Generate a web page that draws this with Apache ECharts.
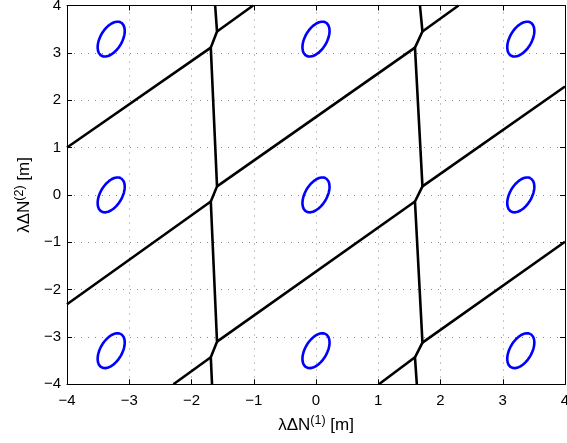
<!DOCTYPE html>
<html>
<head>
<meta charset="utf-8">
<script src="https://cdn.jsdelivr.net/npm/echarts@6/dist/echarts.min.js"></script>
<style>
html,body{margin:0;padding:0;background:#fff;overflow:hidden;}
#chart{width:567px;height:443px;}
</style>
</head>
<body>
<div id="chart"></div>
<script>
// Axis ticks
const xTicks = [-4, -3, -2, -1, 0, 1, 2, 3, 4];
const yTicks = [-4, -3, -2, -1, 0, 1, 2, 3, 4];

// Pull-in region boundaries (black)
const boundaryLeft = [[-1.62, 4], [-1.59, 3.45], [-1.69, 3.11], [-1.59, 0.18], [-1.69, -0.14], [-1.59, -3.10], [-1.69, -3.43], [-1.67, -4]];
const boundaryRight = [[1.67, 4], [1.71, 3.45], [1.59, 3.11], [1.71, 0.18], [1.59, -0.14], [1.71, -3.12], [1.59, -3.43], [1.62, -4]];
const slant1 = [[-4, 1.0], [-1.69, 3.11]];
const slant2 = [[-1.59, 3.45], [-1.01, 4]];
const slant3 = [[-4, -2.31], [-1.69, -0.14]];
const slant4 = [[-1.59, 0.18], [1.59, 3.11]];
const slant5 = [[1.71, 3.45], [2.29, 4]];
const slant6 = [[-2.29, -4], [-1.69, -3.43]];
const slant7 = [[-1.59, -3.10], [1.59, -0.14]];
const slant8 = [[1.71, 0.18], [4, 2.29]];
const slant9 = [[1.01, -4], [1.59, -3.43]];
const slant10 = [[1.71, -3.12], [4, -0.99]];

// Confidence ellipses (blue): centres and semi-axis vectors
const ellipseCentersX = [-3.29, 0, 3.29];
const ellipseCentersY = [-3.29, 0, 3.29];
const ellipseMajor = [0.158, 0.35];
const ellipseMinor = [-0.15, 0.117];

const boundaries = [boundaryLeft, boundaryRight, slant1, slant2, slant3, slant4, slant5, slant6, slant7, slant8, slant9, slant10];

function ellipsePoints(cx, cy) {
  const pts = [];
  const n = 96;
  for (let i = 0; i <= n; i++) {
    const t = 2 * Math.PI * i / n;
    pts.push([cx + ellipseMajor[0] * Math.cos(t) + ellipseMinor[0] * Math.sin(t),
              cy + ellipseMajor[1] * Math.cos(t) + ellipseMinor[1] * Math.sin(t)]);
  }
  return pts;
}

const series = [];
boundaries.forEach(function (b) {
  series.push({type: 'line', data: b, symbol: 'none', clip: true, animation: false,
    lineStyle: {color: '#000', width: 2.6}, silent: true});
});
ellipseCentersX.forEach(function (cx) {
  ellipseCentersY.forEach(function (cy) {
    series.push({type: 'line', data: ellipsePoints(cx, cy), symbol: 'none', smooth: false, clip: true, animation: false,
      lineStyle: {color: '#0000ff', width: 2.6}, silent: true});
  });
});

const font = 'Liberation Sans, Arial, Helvetica, sans-serif';
const minus = function (v) { return String(v).replace('-', '\u2212'); };
const nameStyle = {fontFamily: font, fontSize: 17, color: '#000',
  rich: {sup: {fontFamily: font, fontSize: 12.5, color: '#000', padding: [0, 0, 9, 0]}}};

const chart = echarts.init(document.getElementById('chart'), null, {renderer: 'canvas'});
chart.setOption({
  animation: false,
  backgroundColor: '#fff',
  grid: {left: 67, right: 2, top: 5.5, bottom: 58.7, containLabel: false, outerBoundsMode: 'none'},
  xAxis: [{
    type: 'value', min: xTicks[0], max: xTicks[xTicks.length - 1], interval: 1, position: 'bottom',
    name: 'λΔN{sup|(1)} [m]', nameLocation: 'middle', nameGap: 30,
    nameTextStyle: nameStyle,
    axisLine: {show: true, onZero: false, lineStyle: {color: '#000', width: 1}},
    axisTick: {show: true, inside: true, length: 5, lineStyle: {color: '#000'}},
    axisLabel: {fontFamily: font, fontSize: 15, color: '#000', margin: 9, formatter: minus, hideOverlap: false},
    splitLine: {show: true, lineStyle: {color: '#8a8a8a', width: 1, type: [1, 6]}}
  }, {
    type: 'value', min: xTicks[0], max: xTicks[xTicks.length - 1], interval: 1, position: 'top',
    axisLine: {show: true, onZero: false, lineStyle: {color: '#000', width: 1}},
    axisTick: {show: true, inside: true, length: 5, lineStyle: {color: '#000'}},
    axisLabel: {show: false}, splitLine: {show: false}
  }],
  yAxis: [{
    type: 'value', min: yTicks[0], max: yTicks[yTicks.length - 1], interval: 1, position: 'left',
    name: 'λΔN{sup|(2)} [m]', nameLocation: 'middle', nameGap: 32, nameRotate: 90,
    nameTextStyle: nameStyle,
    axisLine: {show: true, onZero: false, lineStyle: {color: '#000', width: 1}},
    axisTick: {show: true, inside: true, length: 5, lineStyle: {color: '#000'}},
    axisLabel: {fontFamily: font, fontSize: 15, color: '#000', margin: 6, formatter: minus},
    splitLine: {show: true, lineStyle: {color: '#8a8a8a', width: 1, type: [1, 6]}}
  }, {
    type: 'value', min: yTicks[0], max: yTicks[yTicks.length - 1], interval: 1, position: 'right',
    axisLine: {show: true, onZero: false, lineStyle: {color: '#000', width: 1}},
    axisTick: {show: true, inside: true, length: 5, lineStyle: {color: '#000'}},
    axisLabel: {show: false}, splitLine: {show: false}
  }],
  series: series
});
</script>
</body>
</html>
